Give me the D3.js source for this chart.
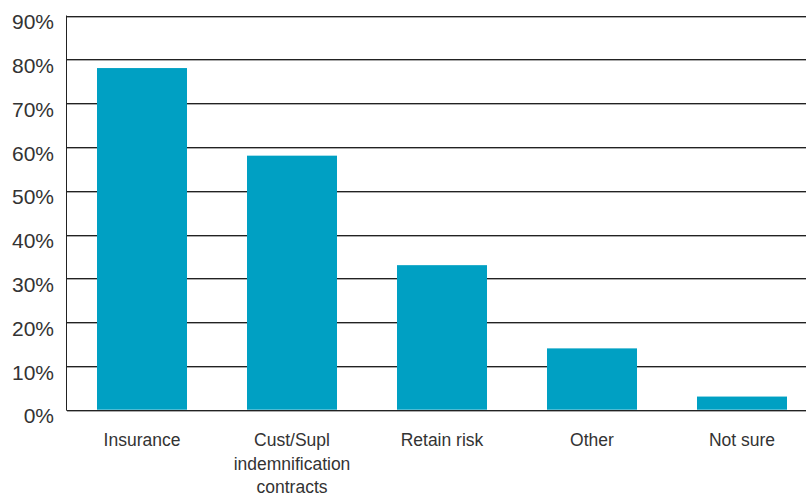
<!DOCTYPE html>
<html><head><meta charset="utf-8">
<script src="https://cdn.jsdelivr.net/npm/d3@7"></script>
<style>body{margin:0;background:#fff}svg{display:block}text{font-family:"Liberation Sans",Arial,sans-serif;fill:#333}</style>
</head><body>
<svg id="c" width="806" height="498"></svg>
<script>
const categories = [["Insurance"], ["Cust/Supl", "indemnification", "contracts"], ["Retain risk"], ["Other"], ["Not sure"]];
const values = [78, 58, 33, 14, 3];
const ticks = [0, 10, 20, 30, 40, 50, 60, 70, 80, 90];

const svg = d3.select("#c");
const x = d3.scaleBand().domain(d3.range(categories.length)).range([67, 817]).paddingInner(0.4).paddingOuter(0.2);
const y = d3.scaleLinear().domain([0, 90]).range([409.7, 15.5]);

// gridlines
const g = svg.append("g");
ticks.forEach(t => {
  const yy = Math.round(y(t));
  g.append("line").attr("x1", 67).attr("x2", 806).attr("y1", yy + 1.5).attr("y2", yy + 1.5).attr("stroke", "#aaa").attr("stroke-width", 1);
  g.append("line").attr("x1", 67).attr("x2", 806).attr("y1", yy + 0.5).attr("y2", yy + 0.5).attr("stroke", "#222").attr("stroke-width", 1);
});

// bars
svg.append("g").selectAll("rect").data(values).join("rect")
  .attr("x", (d, i) => x(i)).attr("width", x.bandwidth())
  .attr("y", d => y(d)).attr("height", d => y(0) - y(d))
  .attr("fill", "#00a0c3");

// left axis line
svg.append("line").attr("x1", 66.5).attr("x2", 66.5).attr("y1", y(90)).attr("y2", y(0) + 1).attr("stroke", "#222");

// y axis labels
const yAxis = d3.axisLeft(y).tickValues(ticks).tickFormat(d => d + "%").tickSize(0).tickPadding(13);
const ya = svg.append("g").attr("transform", "translate(67,0)").call(yAxis);
ya.select(".domain").remove();
ya.selectAll("text").attr("font-size", 21).attr("dy", "0.63em").style("fill", "#333").attr("font-family", "Liberation Sans, Arial, sans-serif");

// category labels
const cl = svg.append("g");
categories.forEach((lines, i) => {
  const t = cl.append("text").attr("text-anchor", "middle").attr("font-size", 17.5)
    .attr("x", x(i) + x.bandwidth() / 2).attr("y", 446);
  lines.forEach((ln, j) => t.append("tspan").attr("x", x(i) + x.bandwidth() / 2).attr("dy", j === 0 ? 0 : 23.5).text(ln));
});
</script>
</body></html>
